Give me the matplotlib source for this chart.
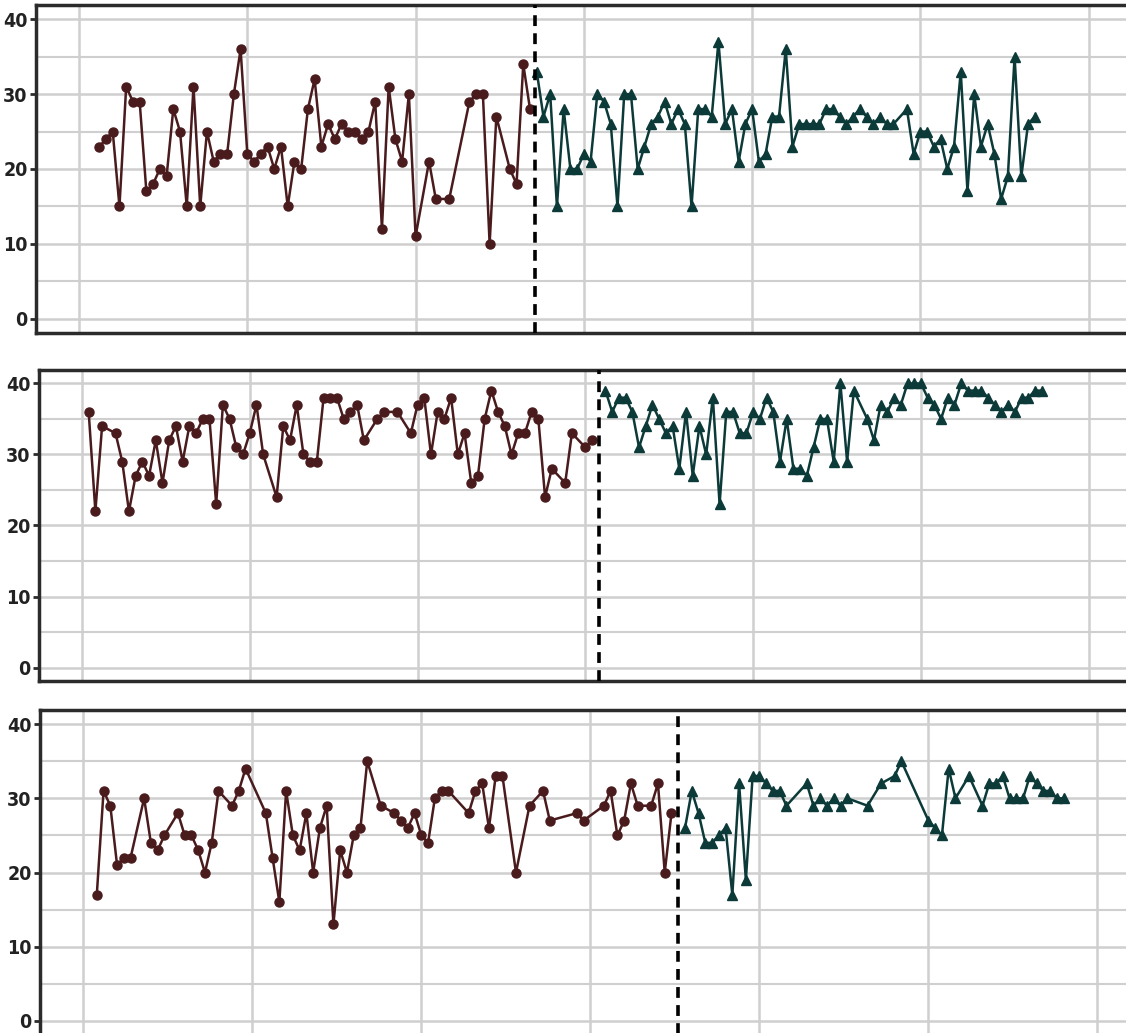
import numpy as np
import matplotlib.pyplot as plt

# -----------------------------
# data: session number / score
# -----------------------------
# panel 1
p1_a_x = [3, 4, 5, 6, 7, 8, 9, 10, 11, 12, 13, 14, 15, 16, 17, 18, 19, 20, 21, 22,
          23, 24, 25, 26, 27, 28, 29, 30, 31, 32, 33, 34, 35, 36, 37, 38, 39, 40, 41, 42,
          43, 44, 45, 46, 47, 48, 49, 50, 52, 53, 55, 58, 59, 60, 61, 62, 64, 65, 66, 67]
p1_a_y = [23, 24, 25, 15, 31, 29, 29, 17, 18, 20, 19, 28, 25, 15, 31, 15, 25, 21, 22, 22,
          30, 36, 22, 21, 22, 23, 20, 23, 15, 21, 20, 28, 32, 23, 26, 24, 26, 25, 25, 24,
          25, 29, 12, 31, 24, 21, 30, 11, 21, 16, 16, 29, 30, 30, 10, 27, 20, 18, 34, 28]
p1_b_x = [68, 69, 70, 71, 72, 73, 74, 75, 76, 77, 78, 79, 80, 81, 82, 83, 84, 85, 86, 87,
          88, 89, 90, 91, 92, 93, 94, 95, 96, 97, 98, 99, 100, 101, 102, 103, 104, 105, 106, 107,
          108, 109, 110, 111, 112, 113, 114, 115, 116, 117, 118, 119, 120, 121, 123, 124, 125, 126, 127, 128,
          129, 130, 131, 132, 133, 134, 135, 136, 137, 138, 139, 140, 141, 142]
p1_b_y = [33, 27, 30, 15, 28, 20, 20, 22, 21, 30, 29, 26, 15, 30, 30, 20, 23, 26, 27, 29,
          26, 28, 26, 15, 28, 28, 27, 37, 26, 28, 21, 26, 28, 21, 22, 27, 27, 36, 23, 26,
          26, 26, 26, 28, 28, 27, 26, 27, 28, 27, 26, 27, 26, 26, 28, 22, 25, 25, 23, 24,
          20, 23, 33, 17, 30, 23, 26, 22, 16, 19, 35, 19, 26, 27]
p1_split = 67.7

# panel 2
p2_a_x = [1, 2, 3, 5, 6, 7, 8, 9, 10, 11, 12, 13, 14, 15, 16, 17, 18, 19, 20, 21,
          22, 23, 24, 25, 26, 27, 29, 30, 31, 32, 33, 34, 35, 36, 37, 38, 39, 40, 41, 42,
          44, 45, 47, 49, 50, 51, 52, 53, 54, 55, 56, 57, 58, 59, 60, 61, 62, 63, 64, 65,
          66, 67, 68, 69, 70, 72, 73, 75, 76]
p2_a_y = [36, 22, 34, 33, 29, 22, 27, 29, 27, 32, 26, 32, 34, 29, 34, 33, 35, 35, 23, 37,
          35, 31, 30, 33, 37, 30, 24, 34, 32, 37, 30, 29, 29, 38, 38, 38, 35, 36, 37, 32,
          35, 36, 36, 33, 37, 38, 30, 36, 35, 38, 30, 33, 26, 27, 35, 39, 36, 34, 30, 33,
          33, 36, 35, 24, 28, 26, 33, 31, 32]
p2_b_x = [78, 79, 80, 81, 82, 83, 84, 85, 86, 87, 88, 89, 90, 91, 92, 93, 94, 95, 96, 97,
          98, 99, 100, 101, 102, 103, 104, 105, 106, 107, 108, 109, 110, 111, 112, 113, 114, 115, 117, 118,
          119, 120, 121, 122, 123, 124, 125, 126, 127, 128, 129, 130, 131, 132, 133, 134, 135, 136, 137, 138,
          139, 140, 141, 142, 143]
p2_b_y = [39, 36, 38, 38, 36, 31, 34, 37, 35, 33, 34, 28, 36, 27, 34, 30, 38, 23, 36, 36,
          33, 33, 36, 35, 38, 36, 29, 35, 28, 28, 27, 31, 35, 35, 29, 40, 29, 39, 35, 32,
          37, 36, 38, 37, 40, 40, 40, 38, 37, 35, 38, 37, 40, 39, 39, 39, 38, 37, 36, 37,
          36, 38, 38, 39, 39]
p2_split = 77.1

# panel 3
p3_a_x = [2, 3, 4, 5, 6, 7, 9, 10, 11, 12, 14, 15, 16, 17, 18, 19, 20, 22, 23, 24,
          27, 28, 29, 30, 31, 32, 33, 34, 35, 36, 37, 38, 39, 40, 41, 42, 44, 46, 47, 48,
          49, 50, 51, 52, 53, 54, 57, 58, 59, 60, 61, 62, 64, 66, 68, 69, 73, 74, 77, 78,
          79, 80, 81, 82, 84, 85, 86, 87]
p3_a_y = [17, 31, 29, 21, 22, 22, 30, 24, 23, 25, 28, 25, 25, 23, 20, 24, 31, 29, 31, 34,
          28, 22, 16, 31, 25, 23, 28, 20, 26, 29, 13, 23, 20, 25, 26, 35, 29, 28, 27, 26,
          28, 25, 24, 30, 31, 31, 28, 31, 32, 26, 33, 33, 20, 29, 31, 27, 28, 27, 29, 31,
          25, 27, 32, 29, 29, 32, 20, 28]
p3_b_x = [89, 90, 91, 92, 93, 94, 95, 96, 97, 98, 99, 100, 101, 102, 103, 104, 107, 108, 109, 110,
          111, 112, 113, 116, 118, 120, 121, 125, 126, 127, 128, 129, 131, 133, 134, 135, 136, 137, 138, 139,
          140, 141, 142, 143, 144, 145]
p3_b_y = [26, 31, 28, 24, 24, 25, 26, 17, 32, 19, 33, 33, 32, 31, 31, 29, 32, 29, 30, 29,
          30, 29, 30, 29, 32, 33, 35, 27, 26, 25, 34, 30, 33, 29, 32, 32, 33, 30, 30, 30,
          33, 32, 31, 31, 30, 30]
p3_split = 87.9

panels = [
    (p1_a_x, p1_a_y, p1_b_x, p1_b_y, p1_split),
    (p2_a_x, p2_a_y, p2_b_x, p2_b_y, p2_split),
    (p3_a_x, p3_a_y, p3_b_x, p3_b_y, p3_split),
]

# axes rectangles in figure fractions (left, bottom, width, height)
W, H = 1126, 1033
rects = [
    (36 / W, 1 - 333 / H, 1093 / W, 328 / H),
    (39 / W, 1 - 681 / H, 1090 / W, 311 / H),
    (40 / W, 1 - 1035 / H, 1098 / W, 325 / H),
]

BROWN = "#4a1b1d"
TEAL = "#0b3a39"
GRID = "#cfcfcf"
EDGE = "#2b2b2b"

plt.rcParams['font.family'] = ['DejaVu Sans']
plt.rcParams['font.stretch'] = 'condensed'

fig = plt.figure(figsize=(W / 100, H / 100), dpi=100)

for (ax_x, ax_y, bx, by, split), rect in zip(panels, rects):
    ax = fig.add_axes(rect)
    ax.set_xlim(-6.4, 156)
    ax.set_ylim(-1.9, 41.9)

    # grid
    ax.set_yticks([0, 10, 20, 30, 40])
    ax.set_yticks([5, 15, 25, 35], minor=True)
    ax.set_xticks(np.arange(0, 151, 25))
    ax.grid(True, which='major', axis='both', color=GRID, lw=1.8, zorder=0)
    ax.grid(True, which='minor', axis='y', color=GRID, lw=1.5, zorder=0)
    ax.set_axisbelow(True)

    ax.plot(ax_x, ax_y, color=BROWN, lw=1.8, marker='o', ms=6.5, zorder=3)
    ax.plot(bx, by, color=TEAL, lw=1.8, marker='^', ms=7.5, zorder=3)
    ax.axvline(split, color='black', lw=2.6, ls=(0, (3, 2)), zorder=4)

    for side in ['top', 'bottom', 'left', 'right']:
        ax.spines[side].set_color(EDGE)
        ax.spines[side].set_linewidth(2.5)

    ax.tick_params(axis='x', which='both', length=0, labelbottom=False)
    ax.tick_params(axis='y', which='major', length=4, width=2, color=EDGE,
                   labelsize=14, pad=2, labelcolor='#222222')
    ax.tick_params(axis='y', which='minor', length=0)
    for lab in ax.get_yticklabels():
        lab.set_fontweight('bold')
        lab.set_fontstretch('condensed')

fig.savefig("out.png", dpi=100)
